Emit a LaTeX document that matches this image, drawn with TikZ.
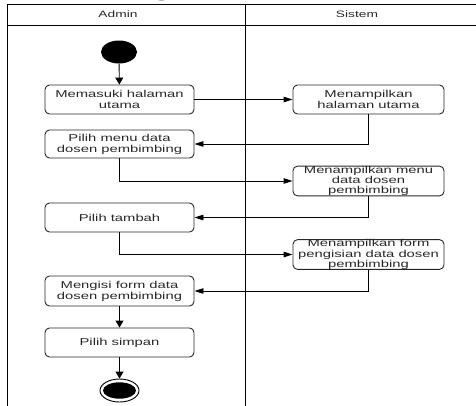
\documentclass[tikz,border=0pt]{standalone}
\usepackage{fontspec}
\setmainfont{Liberation Sans}[FakeStretch=1.48]
\newfontfamily\capserif{Liberation Serif}[FakeStretch=1.48]
\usetikzlibrary{shapes.geometric,arrows.meta}
\definecolor{txt}{RGB}{40,40,40}
\definecolor{boxline}{RGB}{40,40,40}
\tikzset{
  act/.style={draw=boxline, line width=0.9pt, rounded corners=4.5pt, rectangle,
    minimum width=149pt, minimum height=29pt, inner sep=0pt, align=center,
    text=txt, font=\fontsize{10}{11}\selectfont},
  act3/.style={act, font=\fontsize{10}{10.2}\selectfont},
  varrow/.style={draw=black, line width=0.9pt, -{Triangle[length=7pt,width=8pt]}},
  harrow/.style={draw=black, line width=0.9pt, -{Triangle[length=9pt,width=5.5pt]}},
  lane/.style={draw=black, line width=0.9pt},
  hdr/.style={text=txt, font=\fontsize{9.3}{11}\selectfont, inner sep=0pt}
}
\begin{document}
\begin{tikzpicture}[x=1pt,y=-1pt]
\useasboundingbox (0,0) rectangle (476,405);
% caption fragment (cut off at the top edge, as in the reference)
\node[anchor=base, inner sep=0pt, font=\capserif\fontsize{20}{20}\selectfont] (cap) at (162,-3.5) {g};
% swimlanes
\coordinate (tl) at (7.5,4.5);
\coordinate (tr) at (478,4.5);
\coordinate (hl) at (7.5,25);
\coordinate (hr) at (478,25);
\coordinate (bl) at (7.5,407);
\coordinate (dt) at (245,4.5);
\coordinate (db) at (245,407);
\draw[lane] (tr) -- (tl) -- (bl);
\draw[lane] (hl) -- (hr);
\draw[lane] (dt) -- (db);
\node[hdr] (admin) at (118,14.5) {Admin};
\node[hdr] (sistem) at (357,14.5) {Sistem};
% nodes
\node[ellipse, fill=black, minimum width=36pt, minimum height=23pt, inner sep=0pt] (start) at (119,52) {};
\node[act] (b1) at (119.5,99.5) {Memasuki halaman\\utama};
\node[act, minimum width=151pt] (s1) at (368.5,99.5) {Menampilkan\\halaman utama};
\node[act, minimum height=28pt] (b2) at (119.5,144) {Pilih menu data\\dosen pembimbing};
\node[act3, minimum width=151pt, minimum height=28pt] (s2) at (368.5,181) {Menampilkan menu\\data dosen\\pembimbing};
\node[act] (b3) at (119.5,217.5) {Pilih tambah};
\node[act3, minimum width=151pt] (s3) at (368.5,254.5) {Menampilkan form\\pengisian data dosen\\pembimbing};
\node[act, minimum height=30pt] (b4) at (119.5,291) {Mengisi form data\\dosen pembimbing};
\node[act] (b5) at (119.5,342.5) {Pilih simpan};
\node[ellipse, draw=black, line width=0.9pt, fill=white, minimum width=39pt, minimum height=23pt, inner sep=0pt] (end) at (119.5,390.5) {};
\fill[black] (end.center) ellipse (16.5pt and 8.2pt);
% connectors
\draw[varrow] (start) -- (b1);
\draw[harrow] (b1) -- (s1);
\draw[harrow] (s1.south) |- (b2.east);
\draw[harrow] (b2.south) |- (s2.west);
\draw[harrow] (s2.south) |- (b3.east);
\draw[harrow] (b3.south) |- (s3.west);
\draw[harrow] (s3.south) |- (b4.east);
\draw[varrow] (b4) -- (b5);
\draw[varrow] (b5) -- (end);
\end{tikzpicture}
\end{document}
